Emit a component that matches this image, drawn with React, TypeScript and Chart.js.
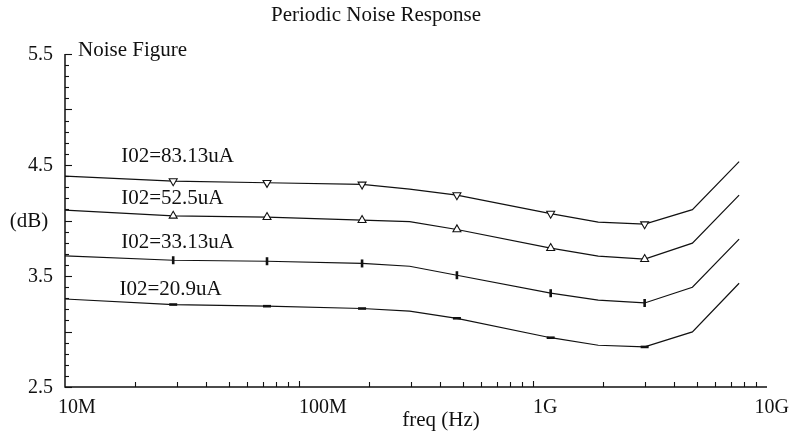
import { useEffect, useRef } from "react";
import { Chart, registerables } from "chart.js";

Chart.register(...registerables);

// ---- data ----
const freqHz = [1e7, 2.9e7, 7.3e7, 1.86e8, 2.97e8, 4.73e8, 1.19e9, 1.9e9, 3.0e9, 4.8e9, 7.6e9];
const nf83 = [4.4, 4.355, 4.34, 4.325, 4.283, 4.229, 4.062, 3.985, 3.967, 4.098, 4.531];
const nf52 = [4.093, 4.042, 4.03, 4.003, 3.99, 3.919, 3.751, 3.679, 3.652, 3.796, 4.229];
const nf33 = [3.681, 3.642, 3.633, 3.613, 3.588, 3.507, 3.345, 3.282, 3.257, 3.399, 3.832];
const nf20 = [3.293, 3.243, 3.228, 3.207, 3.183, 3.119, 2.944, 2.876, 2.861, 2.996, 3.435];
const markerAt = [false, true, true, true, false, true, true, false, true, false, false];
const seriesNames = ["I02=83.13uA", "I02=52.5uA", "I02=33.13uA", "I02=20.9uA"];
const labelFreq = [1.74e7, 1.74e7, 1.74e7, 1.71e7];
const labelValue = [4.58, 4.2, 3.8, 3.38];
const yTickValues = [2.5, 3.5, 4.5, 5.5];
const yTickLabels = ["2.5", "3.5", "4.5", "5.5"];
const xTickValues = [1e7, 1e8, 1e9, 1e10];
const xTickLabels = ["10M", "100M", "1G", "10G"];

const FONT = '20px "Liberation Serif", "DejaVu Serif", serif';
const FONT_L = '21px "Liberation Serif", "DejaVu Serif", serif';
const INK = "#111";

const decor = {
  id: "decor",
  beforeDatasetsDraw(chart: any) {
    const ctx = chart.ctx as CanvasRenderingContext2D;
    const xs = chart.scales.x;
    const ys = chart.scales.y;
    const { left, right, top, bottom } = chart.chartArea;
    ctx.save();
    ctx.strokeStyle = INK;
    ctx.lineWidth = 1.5;
    ctx.beginPath();
    ctx.moveTo(left, top);
    ctx.lineTo(left, bottom);
    ctx.lineTo(right, bottom);
    ctx.stroke();

    ctx.lineWidth = 1.1;
    // y ticks every 0.1
    for (let i = 0; i <= 30; i++) {
      const v = 2.5 + i * 0.1;
      const y = Math.round(ys.getPixelForValue(v)) + 0.5;
      const major = i % 5 === 0;
      ctx.beginPath();
      ctx.moveTo(left, y);
      ctx.lineTo(left + (major ? 7 : 4), y);
      ctx.stroke();
    }
    // x ticks (log decades)
    for (let d = 1e7; d < 1e10; d *= 10) {
      for (let m = 1; m <= 9; m++) {
        if (m === 1 && d === 1e7) continue;
        const x = Math.round(xs.getPixelForValue(m * d)) + 0.5;
        ctx.beginPath();
        ctx.moveTo(x, bottom);
        ctx.lineTo(x, bottom - (m === 1 ? 6 : 5));
        ctx.stroke();
      }
    }

    ctx.fillStyle = INK;
    ctx.font = FONT;
    // y tick labels
    ctx.textAlign = "right";
    ctx.textBaseline = "middle";
    yTickValues.forEach((v, i) => {
      ctx.fillText(yTickLabels[i], left - 12, ys.getPixelForValue(v) + 1);
    });
    // x tick labels
    xTickValues.forEach((v, i) => {
      const x = xs.getPixelForValue(v);
      if (i === xTickLabels.length - 1) {
        ctx.textAlign = "right";
        ctx.fillText(xTickLabels[i], chart.width - 1, bottom + 21);
      } else {
        ctx.textAlign = "left";
        ctx.fillText(xTickLabels[i], i === 0 ? x - 7 : x, bottom + 21);
      }
    });

    // titles
    ctx.font = FONT_L;
    ctx.textAlign = "center";
    ctx.fillText("Periodic Noise Response", 376, 15);
    ctx.fillText("freq (Hz)", 441, 420);
    ctx.fillText("(dB)", 29, 221);
    ctx.textAlign = "left";
    ctx.fillText("Noise Figure", 78, 50);

    // series labels
    seriesNames.forEach((name, i) => {
      ctx.fillText(name, xs.getPixelForValue(labelFreq[i]), ys.getPixelForValue(labelValue[i]));
    });
    ctx.restore();
  },
};

export default function App() {
  const ref = useRef<HTMLCanvasElement | null>(null);

  useEffect(() => {
    if (!ref.current) return;
    const radii = (r: number) => markerAt.map((m) => (m ? r : 0));
    const base = {
      borderColor: INK,
      borderWidth: 1.2,
      pointBorderColor: INK,
      pointBackgroundColor: "#fff",
      tension: 0,
      fill: false,
    };
    const mk = (vals: number[]) => freqHz.map((f, i) => ({ x: f, y: vals[i] }));
    const chart = new Chart(ref.current, {
      type: "line",
      data: {
        datasets: [
          { ...base, label: seriesNames[0], data: mk(nf83), pointStyle: "triangle", rotation: 180, pointRadius: radii(4.6), pointBorderWidth: 1.1 },
          { ...base, label: seriesNames[1], data: mk(nf52), pointStyle: "triangle", rotation: 0, pointRadius: radii(4.6), pointBorderWidth: 1.1 },
          { ...base, label: seriesNames[2], data: mk(nf33), pointStyle: "line", rotation: 90, pointRadius: radii(4), pointBorderWidth: 2.6 },
          { ...base, label: seriesNames[3], data: mk(nf20), pointStyle: "line", rotation: 0, pointRadius: radii(4), pointBorderWidth: 2.6 },
        ] as any,
      },
      plugins: [decor],
      options: {
        animation: false,
        responsive: false,
        layout: { padding: { left: 65, right: 23, top: 54, bottom: 54 } },
        plugins: { legend: { display: false }, tooltip: { enabled: false }, title: { display: false } },
        elements: { point: { hoverRadius: 0 } },
        scales: {
          x: { type: "logarithmic", min: 1e7, max: 1e10, display: false },
          y: { type: "linear", min: 2.5, max: 5.5, display: false },
        },
      },
    });
    return () => chart.destroy();
  }, []);

  return (
    <div style={{ position: "absolute", left: 0, top: 0, width: 790, height: 441, background: "#fff" }}>
      <canvas ref={ref} width={790} height={441} style={{ display: "block", width: 790, height: 441 }} />
    </div>
  );
}
